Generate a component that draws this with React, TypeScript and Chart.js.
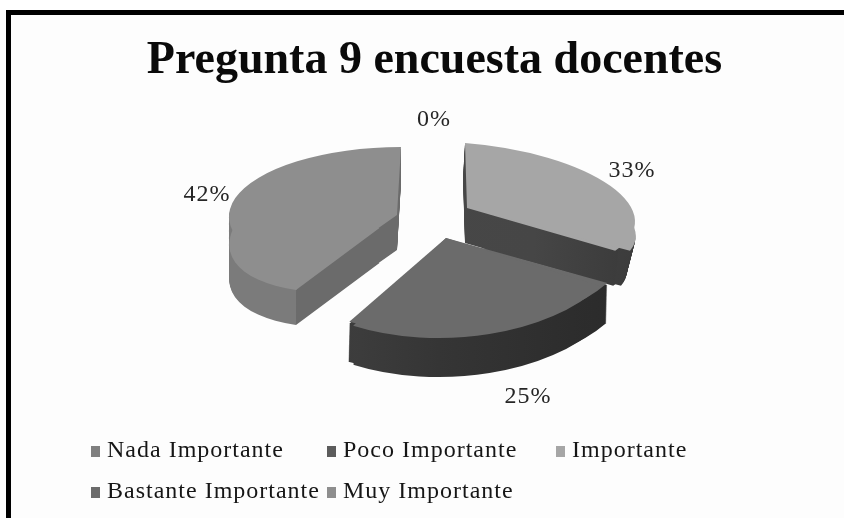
import React, { useEffect, useRef } from "react";
import { Chart, registerables } from "chart.js";

Chart.register(...registerables);

const categories = ["Nada Importante", "Poco Importante", "Importante", "Bastante Importante", "Muy Importante"];
const shares = [0, 0, 33, 25, 42];
const topColors = ["#7f7f7f", "#5c5c5c", "#a6a6a6", "#6b6b6b", "#8e8e8e"];
const chartTitle = "Pregunta 9 encuesta docentes";

type Frame = {
  c: number[];
  u: number[];
  v: number[];
  depth: number[];
  clipRight?: number;
  clipTop?: number;
  wallClipRight?: number;
};
type Solid = { frames: Frame[]; wall: [number, string][] };

// Projection of each visible slice onto the tilted, exploded 3D view.
const solids: Record<number, Solid> = {
  4: {
    frames: [
      { c: [397, 215], u: [168, 0], v: [-4, 68], depth: [0, 35] },
      { c: [397, 215], u: [166, -19], v: [-24, 75], depth: [0, 35], clipRight: 397, clipTop: 228 },
    ],
    wall: [[0, "#7b7b7b"], [0.259, "#7b7b7b"], [0.259, "#6b6b6b"], [1, "#6b6b6b"]],
  },
  2: {
    frames: [
      { c: [467, 208], u: [168, 13], v: [2, 65], depth: [-2, 35], wallClipRight: 618 },
      { c: [467, 208], u: [164, 13], v: [40, 65], depth: [-9, 35], clipRight: 844, clipTop: 214 },
    ],
    wall: [[0, "#484848"], [0.7, "#464646"], [1, "#3a3a3a"]],
  },
  3: {
    frames: [
      { c: [446, 238], u: [188, -1], v: [-7, 95], depth: [-1, 40] },
      { c: [446, 238], u: [180, 0], v: [-7, 100], depth: [0, 39] },
    ],
    wall: [[0, "#454545"], [0.5, "#353535"], [1, "#2a2a2a"]],
  },
};
const drawOrder = [4, 2, 3];
const labelAnchors: [number, number, number][] = [
  [1, 434, 120],
  [4, 207, 195],
  [2, 632, 171],
  [3, 528, 397],
];
const legendCells: [number, number, number][] = [
  [0, 91, 451],
  [1, 327, 451],
  [2, 556, 451],
  [3, 91, 492],
  [4, 327, 492],
];
const serif = "'Liberation Serif', serif";

const pie3d = {
  id: "pie3d",
  beforeDatasetDraw(chart: any, args: any) {
    const { ctx } = chart;
    const arcs = args.meta.data;
    const paint = (arc: any, frame: Frame, d: number, fill: any) => {
      const R = arc.outerRadius;
      const dx = frame.depth[0] * d;
      const dy = frame.depth[1] * d;
      const [ux, uy] = frame.u;
      const [vx, vy] = frame.v;
      ctx.save();
      if (frame.clipRight) {
        const t = (frame.clipTop ?? 0) + dy;
        ctx.beginPath();
        ctx.rect(0, t, frame.clipRight + dx, 518 - t);
        ctx.clip();
      }
      if (frame.wallClipRight && d > 0) {
        ctx.beginPath();
        ctx.rect(0, 0, frame.wallClipRight, 518);
        ctx.clip();
      }
      const cx = frame.c[0] + dx;
      const cy = frame.c[1] + dy;
      ctx.transform(
        ux / R, uy / R, vx / R, vy / R,
        cx - (arc.x * ux + arc.y * vx) / R,
        cy - (arc.x * uy + arc.y * vy) / R,
      );
      const view = Object.create(arc);
      const opts = Object.create(arc.options);
      Object.defineProperty(opts, "backgroundColor", { value: fill });
      Object.defineProperty(view, "options", { value: opts });
      arc.draw.call(view, ctx);
      ctx.restore();
    };
    drawOrder.forEach((i) => {
      const s = solids[i];
      const arc = arcs[i];
      const g = ctx.createLinearGradient(arc.x - arc.outerRadius, 0, arc.x + arc.outerRadius, 0);
      s.wall.forEach(([p, col]) => g.addColorStop(p, col));
      for (let d = 1; d >= 0.03; d -= 0.025) {
        s.frames.forEach((f) => paint(arc, f, d, g));
      }
      s.frames.forEach((f) => paint(arc, f, 0, topColors[i]));
    });
    return false;
  },
  afterDraw(chart: any) {
    const { ctx } = chart;
    const values: number[] = chart.data.datasets[0].data;
    const total = values.reduce((a, b) => a + b, 0);
    ctx.save();
    ctx.textBaseline = "middle";
    ctx.fillStyle = "#262626";
    ctx.font = `24px ${serif}`;
    ctx.letterSpacing = "1px";
    ctx.textAlign = "center";
    labelAnchors.forEach(([i, x, y]) => {
      ctx.fillText(`${Math.round((values[i] / total) * 100)}%`, x, y);
    });
    ctx.textAlign = "left";
    legendCells.forEach(([i, x, y]) => {
      ctx.fillStyle = topColors[i];
      ctx.fillRect(x, y - 5, 9, 11);
      ctx.fillStyle = "#161616";
      ctx.fillText(chart.data.labels[i], x + 16, y);
    });
    ctx.restore();
  },
};

export default function App() {
  const ref = useRef<HTMLCanvasElement>(null);
  useEffect(() => {
    const chart = new Chart(ref.current!, {
      type: "pie",
      data: {
        labels: categories,
        datasets: [{ data: shares, backgroundColor: topColors, borderWidth: 0 }],
      },
      options: {
        animation: false,
        responsive: false,
        devicePixelRatio: 1,
        layout: { padding: { top: 0, left: 125, right: 100, bottom: 60 } },
        plugins: {
          legend: { display: false },
          tooltip: { enabled: false },
          title: {
            display: true,
            text: chartTitle,
            color: "#0a0a0a",
            font: { family: serif, size: 46, weight: "bold" },
            padding: { top: 34, bottom: 10 },
          },
        },
      },
      plugins: [pie3d],
    } as any);
    return () => chart.destroy();
  }, []);
  return (
    <div style={{ position: "absolute", left: 0, top: 0, width: 844, height: 518, background: "#fff", overflow: "hidden" }}>
      <div
        style={{
          position: "absolute",
          left: 6,
          top: 10,
          right: 0,
          bottom: 0,
          borderTop: "5px solid #000",
          borderLeft: "5px solid #000",
          background: "#fdfdfd",
        }}
      />
      <canvas
        ref={ref}
        width={844}
        height={518}
        style={{ position: "absolute", left: 0, top: 0, filter: "blur(0.5px)" }}
      />
    </div>
  );
}
